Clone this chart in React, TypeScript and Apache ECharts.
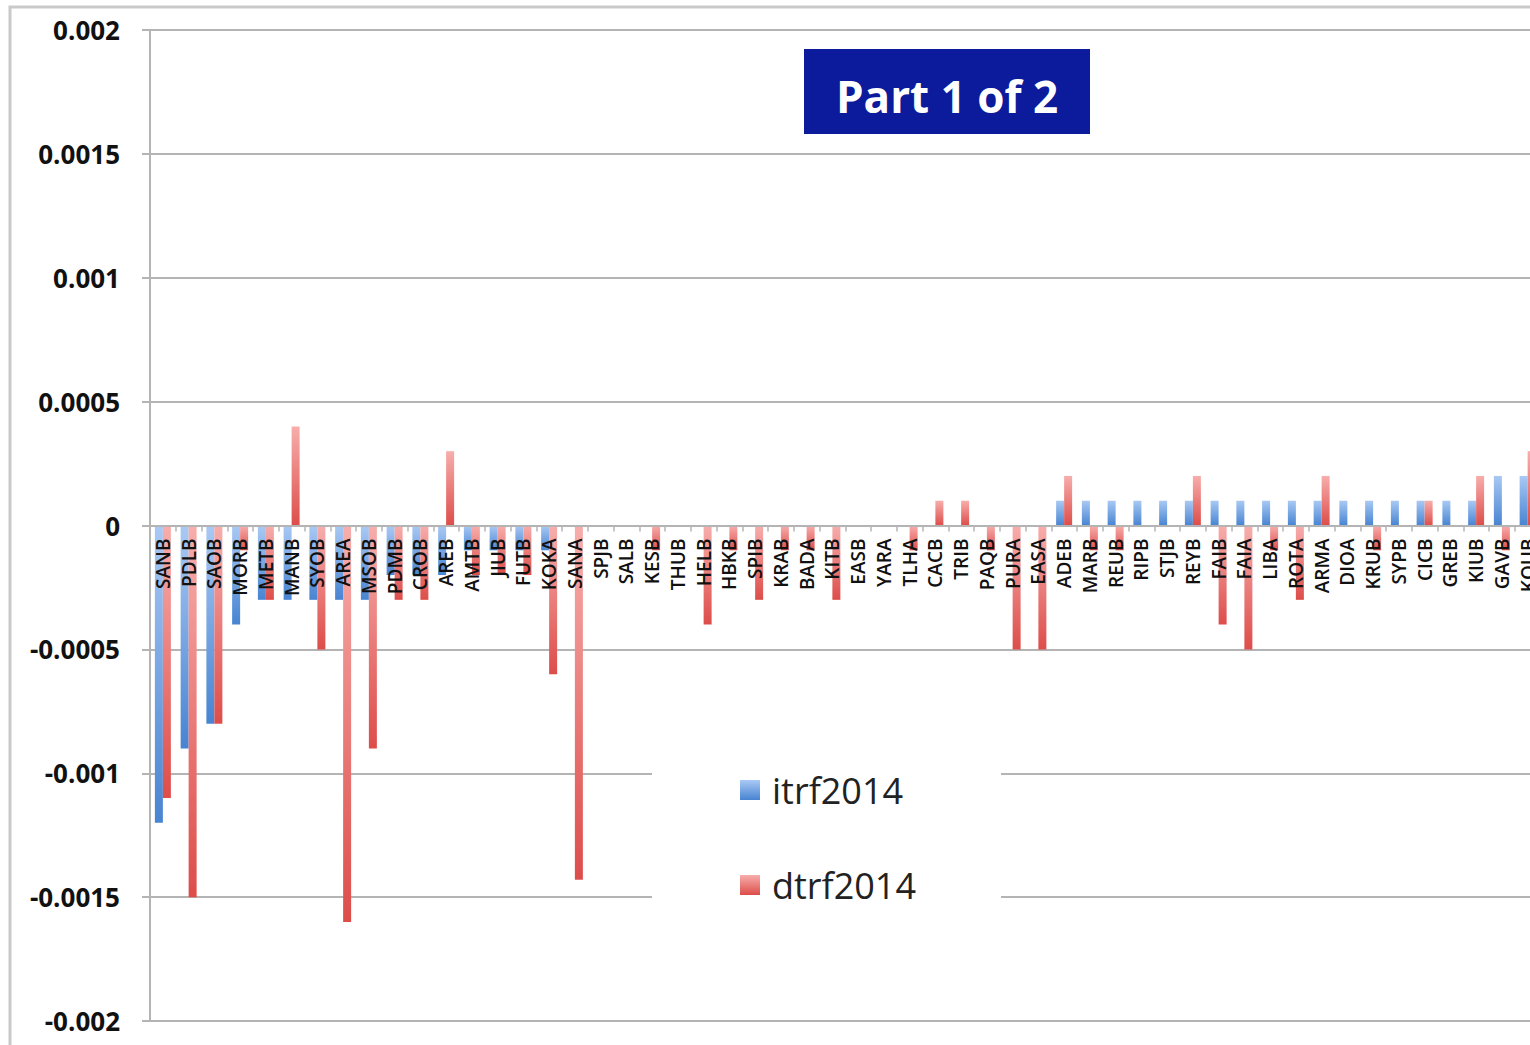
import React, { useEffect, useRef } from "react";
import * as echarts from "echarts";

const categories = [
  "SANB", "PDLB", "SAOB", "MORB", "METB", "MANB", "SYOB", "AREA", "MSOB", "PDMB",
  "CROB", "AREB", "AMTB", "JIUB", "FUTB", "KOKA", "SANA", "SPJB", "SALB", "KESB",
  "THUB", "HELB", "HBKB", "SPIB", "KRAB", "BADA", "KITB", "EASB", "YARA", "TLHA",
  "CACB", "TRIB", "PAQB", "PURA", "EASA", "ADEB", "MARB", "REUB", "RIPB", "STJB",
  "REYB", "FAIB", "FAIA", "LIBA", "ROTA", "ARMA", "DIOA", "KRUB", "SYPB", "CICB",
  "GREB", "KIUB", "GAVB", "KOUB",
];

const itrf2014 = [
  -0.0012, -0.0009, -0.0008, -0.0004, -0.0003, -0.0003, -0.0003, -0.0003, -0.0003, -0.0002,
  -0.0002, -0.0002, -0.0001, -0.0001, -0.0001, -0.0001, 0, 0, 0, 0,
  0, 0, 0, 0, 0, 0, 0, 0, 0, 0,
  0, 0, 0, 0, 0, 0.0001, 0.0001, 0.0001, 0.0001, 0.0001,
  0.0001, 0.0001, 0.0001, 0.0001, 0.0001, 0.0001, 0.0001, 0.0001, 0.0001, 0.0001,
  0.0001, 0.0001, 0.0002, 0.0002,
];

const dtrf2014 = [
  -0.0011, -0.0015, -0.0008, -0.0001, -0.0003, 0.0004, -0.0005, -0.0016, -0.0009, -0.0003,
  -0.0003, 0.0003, -0.0002, -0.0002, -0.0002, -0.0006, -0.00143, 0, 0, -0.0001,
  0, -0.0004, -0.0001, -0.0003, -0.0001, -0.0001, -0.0003, 0, 0, -0.0001,
  0.0001, 0.0001, -0.0001, -0.0005, -0.0005, 0.0002, -0.0001, -0.0001, 0, 0,
  0.0002, -0.0004, -0.0005, -0.0001, -0.0003, 0.0002, 0, -0.0001, 0, 0.0001,
  0, 0.0002, -0.0001, 0.0003,
];

const seriesNames = ["itrf2014", "dtrf2014"];
const titleText = "Part 1 of 2";

const FONT = "'Open Sans', 'Liberation Sans', sans-serif";

function grad(top: string, bottom: string) {
  return new echarts.graphic.LinearGradient(0, 0, 0, 1, [
    { offset: 0, color: top },
    { offset: 1, color: bottom },
  ]);
}

const GRID_TOP = 30;
const GRID_BOTTOM = 24;
const CHART_H = 1045;

export default function App() {
  const ref = useRef<HTMLDivElement>(null);

  useEffect(() => {
    if (!ref.current) return;
    const chart = echarts.init(ref.current, undefined, { renderer: "svg" });
    const gridColor = "#b4b4b4";
    const gridH = CHART_H - GRID_TOP - GRID_BOTTOM;
    const zeroOffset = -gridH / 2;
    chart.setOption({
      animation: false,
      backgroundColor: "#ffffff",
      graphic: [
        {
          type: "rect",
          z: 0,
          silent: true,
          shape: { x: 10, y: 7, width: 1700, height: 1200 },
          style: { fill: "none", stroke: "#c9c9c9", lineWidth: 3 },
        },
        {
          type: "rect",
          z: 10,
          shape: { x: 804, y: 49, width: 286, height: 85 },
          style: { fill: "#0b1b9b" },
        },
        {
          type: "text",
          z: 11,
          x: 947,
          y: 96,
          style: {
            text: titleText,
            fill: "#ffffff",
            font: `bold 44px ${FONT}`,
            textAlign: "center",
            textVerticalAlign: "middle",
          },
        },
      ],
      legend: {
        data: seriesNames,
        orient: "vertical",
        left: 652,
        top: 750,
        backgroundColor: "#ffffff",
        padding: [20, 85, 20, 88],
        itemGap: 55,
        itemWidth: 20,
        itemHeight: 20,
        icon: "rect",
        textStyle: {
          fontFamily: FONT,
          fontSize: 36,
          color: "#222222",
          lineHeight: 40,
          padding: [0, 0, 0, 7],
        },
        z: 20,
      },
      grid: {
        left: 150,
        right: 19.5,
        top: GRID_TOP,
        bottom: GRID_BOTTOM,
        containLabel: false,
        outerBoundsMode: "none",
      },
      xAxis: {
        type: "category",
        data: categories,
        z: 10,
        offset: zeroOffset,
        axisLine: { onZero: false, lineStyle: { color: gridColor, width: 2 } },
        axisTick: { show: true, alignWithLabel: false, length: 6, lineStyle: { color: gridColor, width: 1.5 } },
        axisLabel: {
          rotate: 90,
          interval: 0,
          margin: 13,
          fontFamily: FONT,
          fontSize: 19,
          fontWeight: 600,
          color: "#111111",
        },
        splitLine: { show: false },
      },
      yAxis: {
        type: "value",
        min: -0.002,
        max: 0.002,
        interval: 0.0005,
        axisLine: { show: true, lineStyle: { color: gridColor, width: 2 } },
        axisTick: { show: true, length: 8, lineStyle: { color: gridColor, width: 2 } },
        axisLabel: {
          margin: 30,
          fontFamily: FONT,
          fontSize: 26,
          fontWeight: "bold",
          color: "#111111",
          formatter: (v: number) => String(parseFloat(v.toFixed(5))),
        },
        splitLine: { show: true, lineStyle: { color: gridColor, width: 2 } },
      },
      series: [
        {
          name: seriesNames[0],
          type: "bar",
          data: itrf2014,
          barWidth: 8,
          barGap: "0%",
          itemStyle: { color: grad("#a9c9f4", "#4884d2") },
        },
        {
          name: seriesNames[1],
          type: "bar",
          data: dtrf2014,
          barWidth: 8,
          barGap: "0%",
          itemStyle: { color: grad("#f7aeac", "#dd4d4a") },
        },
      ],
    });
    return () => chart.dispose();
  }, []);

  return (
    <div
      style={{
        position: "fixed",
        left: 0,
        top: 0,
        width: 1530,
        height: 1045,
        overflow: "hidden",
        background: "#ffffff",
      }}
    >
      <div ref={ref} style={{ width: 1560, height: CHART_H }} />
    </div>
  );
}
